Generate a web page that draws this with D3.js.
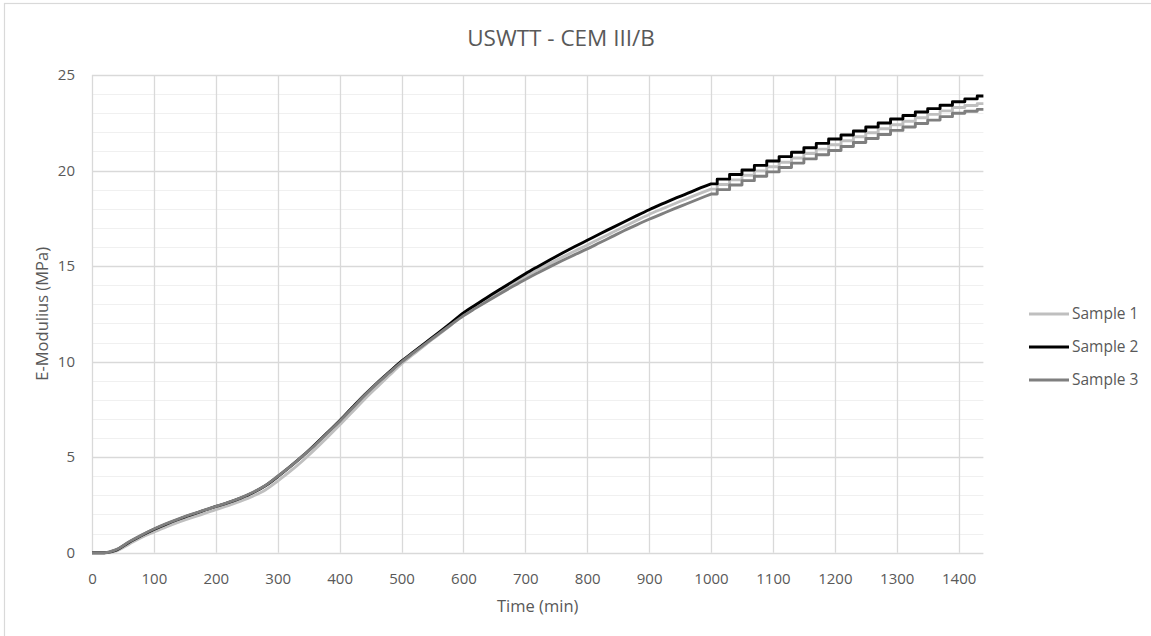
<!DOCTYPE html>
<html>
<head>
<meta charset="utf-8">
<script src="https://d3js.org/d3.v7.min.js"></script>
<style>
  body { margin: 0; background: #ffffff; }
  text { font-family: "Open Sans", sans-serif; fill: #595959; }
</style>
</head>
<body>
<script>
// time of each reading (min)
var times = [0,20,40,60,80,100,120,140,160,180,200,220,240,260,280,300,320,340,360,380,
             400,420,440,460,480,500,520,540,560,580,600,620,640,660,680,700,720,740,760,780,
             800,820,840,860,880,900,920,940,960,980,1000,1020,1040,1060,1080,1100,1120,1140,1160,1180,
             1200,1220,1240,1260,1280,1300,1320,1340,1360,1380,1400,1420,1440];

// E-modulus (MPa)
var sample1 = [0,0,0.1,0.45,0.8,1.08,1.35,1.6,1.82,2.03,2.26,2.47,2.7,2.96,3.28,3.75,4.25,4.8,5.4,6.03,
               6.68,7.35,8.02,8.65,9.27,9.88,10.4,10.92,11.42,11.93,12.45,12.86,13.27,13.67,14.06,14.45,14.8,15.14,15.47,15.79,
               16.1,16.43,16.75,17.07,17.39,17.7,17.98,18.25,18.52,18.78,19.03,19.27,19.51,19.75,19.98,20.2,20.43,20.66,20.89,21.12,
               21.35,21.56,21.77,21.98,22.19,22.4,22.58,22.76,22.94,23.12,23.3,23.4,23.5];
var sample2 = [0,0,0.15,0.55,0.9,1.22,1.5,1.75,1.98,2.2,2.42,2.62,2.86,3.14,3.5,3.98,4.5,5.05,5.65,6.28,
               6.9,7.58,8.25,8.87,9.45,10.02,10.52,11.02,11.52,12.03,12.55,12.98,13.4,13.8,14.2,14.6,14.97,15.33,15.68,16.02,
               16.35,16.68,17.0,17.32,17.64,17.95,18.24,18.52,18.78,19.05,19.3,19.55,19.79,20.03,20.27,20.5,20.73,20.96,21.19,21.42,
               21.65,21.86,22.07,22.28,22.49,22.7,22.88,23.06,23.24,23.42,23.6,23.75,23.9];
var sample3 = [0,0,0.17,0.57,0.92,1.24,1.52,1.77,2.0,2.21,2.42,2.63,2.87,3.16,3.52,4.0,4.5,5.05,5.62,6.25,
               6.88,7.55,8.22,8.85,9.42,9.98,10.48,10.97,11.45,11.93,12.4,12.8,13.19,13.57,13.94,14.3,14.64,14.97,15.29,15.6,
               15.9,16.22,16.54,16.86,17.16,17.45,17.72,17.99,18.25,18.51,18.77,19.0,19.24,19.47,19.7,19.93,20.16,20.39,20.61,20.83,
               21.05,21.26,21.47,21.68,21.89,22.1,22.28,22.46,22.64,22.82,23.0,23.1,23.2];

var seriesNames = ["Sample 1", "Sample 2", "Sample 3"];
var seriesColors = ["#bfbfbf", "#000000", "#7f7f7f"];
var xTicks = [0,100,200,300,400,500,600,700,800,900,1000,1100,1200,1300,1400];
var yTicks = [0,5,10,15,20,25];
var yMinor = [1,2,3,4,6,7,8,9,11,12,13,14,16,17,18,19,21,22,23,24];

var width = 1151, height = 636;
var margin = {top: 75, right: 168, bottom: 83, left: 92};
var stepFrom = 1000; // readings after this show as a staircase

var svg = d3.select("body")
            .append("svg")
            .attr("width", width)
            .attr("height", height);

// chart border
svg.append("rect")
   .attr("x", 4.5)
   .attr("y", 3.5)
   .attr("width", width + 10)
   .attr("height", height + 10)
   .attr("fill", "none")
   .attr("stroke", "#d9d9d9")
   .attr("stroke-width", 1.2);

var xScale = d3.scaleLinear()
               .domain([0, 1440])
               .range([margin.left, width - margin.right + 0.4]);

var yScale = d3.scaleLinear()
               .domain([0, 25])
               .range([height - margin.bottom - 0.3, margin.top]);

// minor horizontal gridlines
svg.append("g")
   .selectAll("line")
   .data(yMinor)
   .enter()
   .append("line")
   .attr("x1", xScale(0))
   .attr("x2", xScale(1440))
   .attr("y1", function(d){ return Math.round(yScale(d)) + 0.5; })
   .attr("y2", function(d){ return Math.round(yScale(d)) + 0.5; })
   .attr("stroke", "#f0f0f0")
   .attr("stroke-width", 1.2);

// major vertical gridlines
svg.append("g")
   .selectAll("line")
   .data(xTicks)
   .enter()
   .append("line")
   .attr("x1", function(d){ return Math.round(xScale(d)) + 0.5; })
   .attr("x2", function(d){ return Math.round(xScale(d)) + 0.5; })
   .attr("y1", yScale(0))
   .attr("y2", yScale(25))
   .attr("stroke", "#d9d9d9")
   .attr("stroke-width", 1.3);

// major horizontal gridlines
svg.append("g")
   .selectAll("line")
   .data(yTicks)
   .enter()
   .append("line")
   .attr("x1", xScale(0))
   .attr("x2", xScale(1440))
   .attr("y1", function(d){ return Math.round(yScale(d)) + 0.5; })
   .attr("y2", function(d){ return Math.round(yScale(d)) + 0.5; })
   .attr("stroke", "#d9d9d9")
   .attr("stroke-width", 1.3);

// tick labels through d3 axes, lines hidden
var xAxis = svg.append("g")
   .attr("transform", "translate(0," + yScale(0) + ")")
   .call(d3.axisBottom(xScale).tickValues(xTicks).tickFormat(d3.format("d")).tickSize(0).tickPadding(21));
var yAxis = svg.append("g")
   .attr("transform", "translate(" + xScale(0) + ",0)")
   .call(d3.axisLeft(yScale).tickValues(yTicks).tickFormat(d3.format("d")).tickSize(0).tickPadding(17));

[xAxis, yAxis].forEach(function(a){
  a.select(".domain").remove();
  a.selectAll("text")
   .attr("fill", "#595959")
   .style("font-size", "15px")
   .style("font-family", "'Open Sans', sans-serif");
});

// series
var allSeries = [sample1, sample2, sample3];

allSeries.forEach(function(values, k){
  var pts = values.map(function(v, i){ return [times[i], v]; });
  var early = pts.filter(function(d){ return d[0] <= stepFrom; });
  var late = pts.filter(function(d){ return d[0] >= stepFrom; });

  var smooth = d3.line()
      .x(function(d){ return xScale(d[0]); })
      .y(function(d){ return yScale(d[1]); })
      .curve(d3.curveMonotoneX);
  var steps = d3.line()
      .x(function(d){ return xScale(d[0]); })
      .y(function(d){ return yScale(d[1]); })
      .curve(d3.curveStep);

  svg.append("path")
     .attr("d", smooth(early) + steps(late).replace(/^M/, "L"))
     .attr("fill", "none")
     .attr("stroke", seriesColors[k])
     .attr("stroke-width", 2.9)
     .attr("stroke-linejoin", "round");
});

// title
svg.append("text")
   .attr("x", 561)
   .attr("y", 46)
   .attr("text-anchor", "middle")
   .style("font-size", "22.5px")
   .text("USWTT - CEM III/B");

// axis titles
svg.append("text")
   .attr("x", (xScale(0) + xScale(1440)) / 2)
   .attr("y", 612)
   .attr("text-anchor", "middle")
   .style("font-size", "16.5px")
   .text("Time (min)");

svg.append("text")
   .attr("transform", "translate(48," + ((yScale(0) + yScale(25)) / 2) + ") rotate(-90)")
   .attr("text-anchor", "middle")
   .style("font-size", "16.5px")
   .text("E-Modulius (MPa)");

// legend
var legend = svg.append("g")
                .attr("transform", "translate(1029,314)");

legend.selectAll("line")
      .data(seriesColors)
      .enter()
      .append("line")
      .attr("x1", 0)
      .attr("x2", 40)
      .attr("y1", function(d, i){ return i * 33; })
      .attr("y2", function(d, i){ return i * 33; })
      .attr("stroke", function(d){ return d; })
      .attr("stroke-width", 2.9);

legend.selectAll("text")
      .data(seriesNames)
      .enter()
      .append("text")
      .attr("x", 43)
      .attr("y", function(d, i){ return i * 33 + 5; })
      .style("font-size", "15.5px")
      .text(function(d){ return d; });
</script>
</body>
</html>
